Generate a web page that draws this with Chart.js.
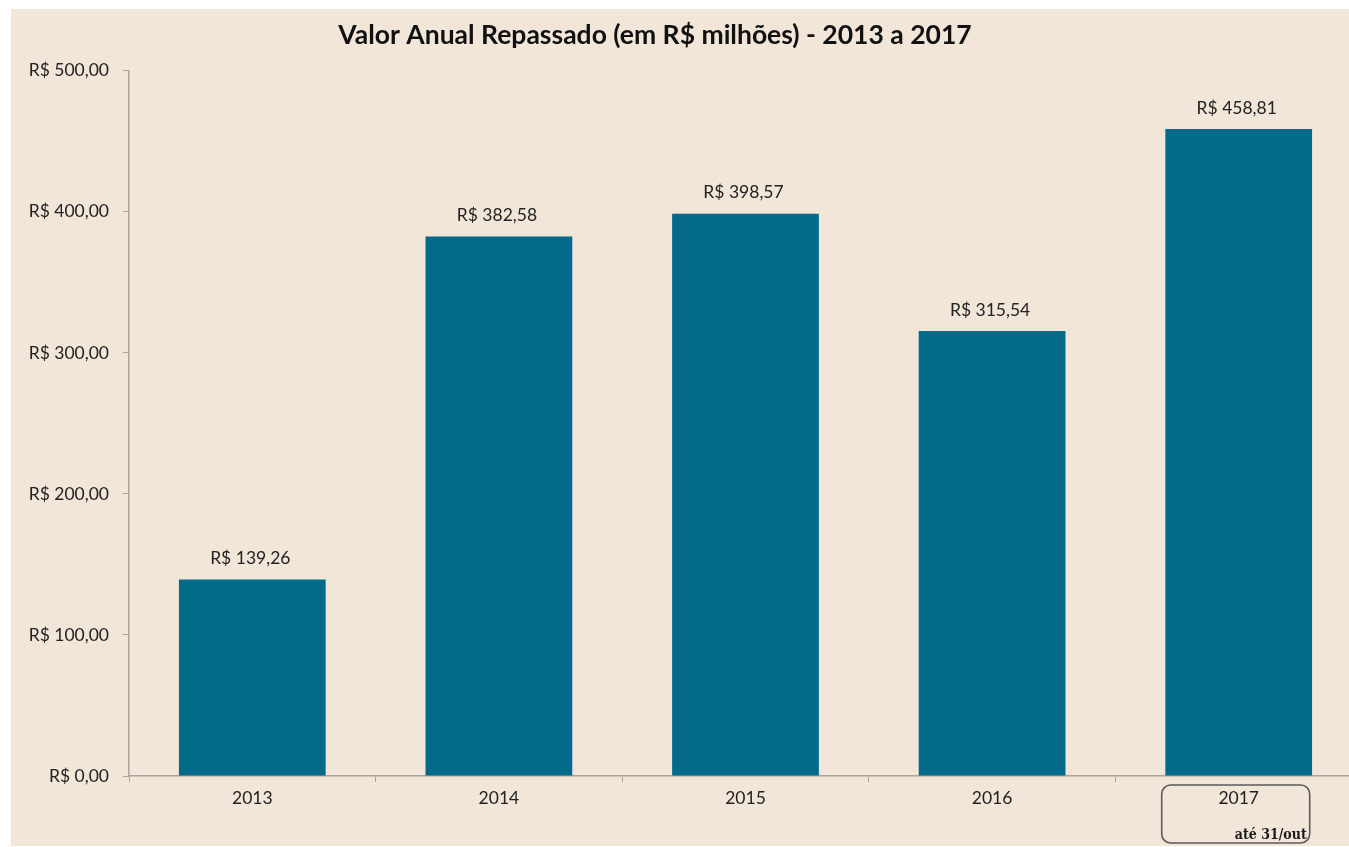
<!DOCTYPE html>
<html>
<head>
<meta charset="utf-8">
<script src="https://cdn.jsdelivr.net/npm/chart.js@4.4.1/dist/chart.umd.min.js"></script>
<style>
    html, body { margin: 0; padding: 0; background: #ffffff; overflow: hidden; }
    #bg { position: absolute; left: 11px; top: 9px; width: 1338px; height: 837px; background: #f2e6d9; }
    #wrap { position: absolute; left: 0; top: 0; width: 1362px; height: 847px; }
</style>
</head>
<body>
<div id="bg"></div>
<div id="wrap"><canvas id="chart"></canvas></div>
<script>
// Valor anual repassado, R$ milhões
const years = ['2013', '2014', '2015', '2016', '2017'];
const values = [139.26, 382.58, 398.57, 315.54, 458.81];
const yTicks = [0, 100, 200, 300, 400, 500];
const lastNote = 'até 31/out';

const BAR_COLOUR = '#036a8a';
const AXIS_COLOUR = '#a9a49d';
const TEXT_COLOUR = '#222222';
const FONT = 'Lato, "Open Sans", sans-serif';

function brl(v) {
    return 'R$ ' + v.toFixed(2).replace('.', ',');
}

// value labels above each bar
const valueLabels = {
    id: 'valueLabels',
    afterDatasetsDraw(chart) {
        const ctx = chart.ctx;
        const meta = chart.getDatasetMeta(0);
        ctx.save();
        ctx.font = '17.5px ' + FONT;
        ctx.fillStyle = TEXT_COLOUR;
        ctx.textAlign = 'center';
        ctx.textBaseline = 'middle';
        meta.data.forEach((bar, i) => {
            ctx.fillText(brl(values[i]), bar.x - 2, bar.y - 21);
        });
        ctx.restore();
    },
};

// the title in the original sits a bit left of the canvas centre
const titleShift = {
    id: 'titleShift',
    beforeDraw(chart) {
        if (chart.titleBlock) {
            chart.titleBlock.left = 0;
            chart.titleBlock.right = 1310;
        }
    },
};

// rounded box around the last category label with the note
const lastBox = {
    id: 'lastBox',
    afterDraw(chart) {
        const x = chart.scales.x;
        const ctx = chart.ctx;
        const cx = x.getPixelForValue(years.length - 1);
        const left = cx - 77, top = x.top + 9, w = 148, h = 58;
        ctx.save();
        ctx.strokeStyle = '#5a5a5a';
        ctx.lineWidth = 1.6;
        ctx.beginPath();
        ctx.roundRect(left, top, w, h, 9);
        ctx.stroke();
        ctx.font = 'bold 14px "DejaVu Serif Condensed", "DejaVu Serif", serif';
        ctx.fillStyle = '#1a1a1a';
        ctx.textAlign = 'right';
        ctx.textBaseline = 'alphabetic';
        ctx.fillText(lastNote, left + w - 3, top + h - 4);
        ctx.restore();
    },
};

new Chart(document.getElementById('chart'), {
    type: 'bar',
    data: {
        labels: years,
        datasets: [{
            data: values,
            backgroundColor: BAR_COLOUR,
            borderWidth: 0,
            categoryPercentage: 1,
            barPercentage: 0.595,
        }],
    },
    options: {
        responsive: true,
        maintainAspectRatio: false,
        animation: false,
        layout: { padding: { left: 0, right: 0, top: 0, bottom: 0 } },
        plugins: {
            legend: { display: false },
            tooltip: { enabled: false },
            title: {
                display: true,
                text: 'Valor Anual Repassado (em R$ milhões) - 2013 a 2017',
                color: '#111111',
                font: { family: FONT, size: 26.5, weight: 'bold' },
                padding: { top: 20, bottom: 19 },
            },
        },
        scales: {
            x: {
                grid: {
                    display: true,
                    drawOnChartArea: false,
                    drawTicks: true,
                    tickLength: 6,
                    color: AXIS_COLOUR,
                    offset: true,
                },
                border: { display: true, color: AXIS_COLOUR, width: 1.5 },
                ticks: {
                    color: TEXT_COLOUR,
                    font: { family: FONT, size: 17.5 },
                    padding: 6,
                },
                afterFit(scale) { scale.height = 71; },
            },
            y: {
                min: 0,
                max: 500,
                afterBuildTicks(scale) { scale.ticks = yTicks.map((v) => ({ value: v })); },
                grid: {
                    display: true,
                    drawOnChartArea: false,
                    drawTicks: true,
                    tickLength: 6,
                    color: AXIS_COLOUR,
                },
                border: { display: true, color: AXIS_COLOUR, width: 1.5 },
                ticks: {
                    color: TEXT_COLOUR,
                    font: { family: FONT, size: 17.5 },
                    padding: 14,
                    callback: (v) => brl(v),
                },
                afterFit(scale) { scale.width = 129; },
            },
        },
    },
    plugins: [valueLabels, titleShift, lastBox],
});
</script>
</body>
</html>
